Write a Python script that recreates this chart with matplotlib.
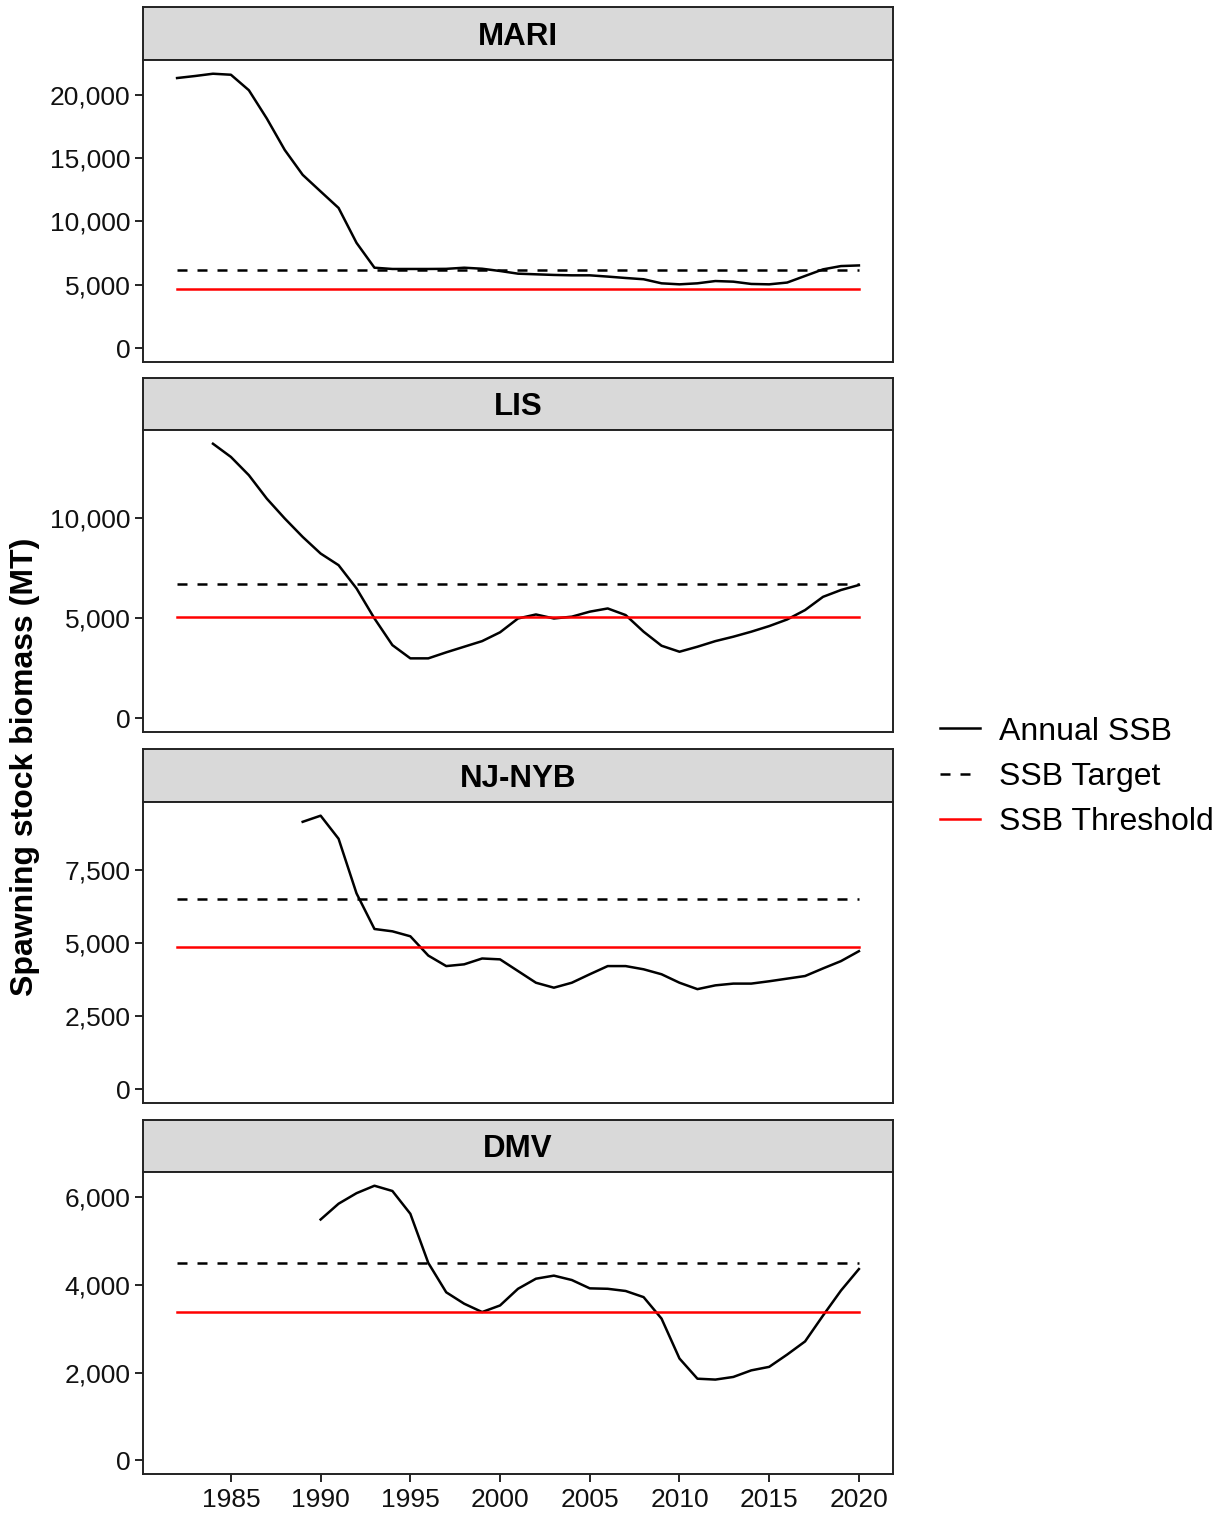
import matplotlib
matplotlib.use("Agg")
import matplotlib.pyplot as plt
from matplotlib.lines import Line2D
from matplotlib.ticker import FuncFormatter

plt.rcParams['font.family'] = ['Liberation Sans', 'DejaVu Sans']

# ---- data ----
regions = ["MARI", "LIS", "NJ-NYB", "DMV"]

mari_years = list(range(1982, 2021))
mari_ssb = [21300, 21460, 21640, 21560, 20340, 18110, 15630, 13670, 12360, 11060,
            8310, 6350, 6250, 6250, 6250, 6260, 6350, 6270, 6090, 5880,
            5830, 5780, 5750, 5750, 5650, 5540, 5440, 5120, 5040, 5120,
            5300, 5250, 5070, 5040, 5180, 5700, 6220, 6480, 6530]

lis_years = list(range(1984, 2021))
lis_ssb = [13700, 13040, 12130, 10960, 9970, 9050, 8220, 7640, 6480, 4980,
           3650, 2990, 2990, 3290, 3570, 3850, 4290, 4980, 5180, 4980,
           5070, 5320, 5480, 5150, 4320, 3620, 3320, 3570, 3850, 4070,
           4320, 4600, 4930, 5400, 6060, 6400, 6650]

njnyb_years = list(range(1989, 2021))
njnyb_ssb = [9160, 9370, 8580, 6710, 5490, 5410, 5240, 4580, 4220, 4280,
             4480, 4450, 4050, 3650, 3480, 3650, 3940, 4220, 4220, 4110,
             3940, 3650, 3430, 3560, 3620, 3620, 3700, 3790, 3880, 4140,
             4390, 4730]

dmv_years = list(range(1990, 2021))
dmv_ssb = [5490, 5850, 6090, 6260, 6140, 5620, 4500, 3830, 3570, 3380,
           3530, 3910, 4140, 4210, 4110, 3920, 3910, 3860, 3720, 3230,
           2320, 1860, 1840, 1900, 2050, 2130, 2410, 2710, 3300, 3870,
           4360]

ssb_target = [6140, 6710, 6530, 4500]
ssb_threshold = [4700, 5030, 4880, 3375]

ref_years = [1982, 2020]

y_ticks = [[0, 5000, 10000, 15000, 20000],
           [0, 5000, 10000],
           [0, 2500, 5000, 7500],
           [0, 2000, 4000, 6000]]
x_ticks = [1985, 1990, 1995, 2000, 2005, 2010, 2015, 2020]

legend_labels = ["Annual SSB", "SSB Target", "SSB Threshold"]
y_label = "Spawning stock biomass (MT)"

series = [(mari_years, mari_ssb), (lis_years, lis_ssb),
          (njnyb_years, njnyb_ssb), (dmv_years, dmv_ssb)]

# ---- layout ----
W, H = 1231, 1515
fig = plt.figure(figsize=(W / 100, H / 100), dpi=100)
fig.patch.set_facecolor("white")


def rect(x0, y0, x1, y1):
    return [x0 / W, 1 - y1 / H, (x1 - x0) / W, (y1 - y0) / H]


strip_px = [(143, 7, 893, 60), (143, 378, 893, 430), (143, 749, 893, 802), (143, 1120, 893, 1172)]
ax_px = [(143, 60, 893, 362), (143, 430, 893, 732), (143, 802, 893, 1103), (143, 1172, 893, 1474)]

LW = 1.8
tick_fs = 19
fmt = FuncFormatter(lambda v, p: f"{int(v):,}")

for i, name in enumerate(regions):
    # strip
    sax = fig.add_axes(rect(*strip_px[i]))
    sax.set_facecolor("#D9D9D9")
    sax.set_xticks([])
    sax.set_yticks([])
    for sp in sax.spines.values():
        sp.set_linewidth(1.4)
        sp.set_color("#222222")
    sax.text(0.5, 0.44, name, ha="center", va="center", fontsize=22.5,
             fontweight="bold", transform=sax.transAxes)

    ax = fig.add_axes(rect(*ax_px[i]))
    yrs, vals = series[i]
    ax.plot(yrs, vals, color="black", lw=LW, solid_joinstyle="round")
    ax.plot(ref_years, [ssb_target[i]] * 2, color="black", lw=LW, dashes=(4, 4))
    ax.plot(ref_years, [ssb_threshold[i]] * 2, color="red", lw=LW)

    x_lo, x_hi = 1982, 2020
    xr = x_hi - x_lo
    ax.set_xlim(x_lo - 0.05 * xr, x_hi + 0.05 * xr)
    ymax = max(max(vals), ssb_target[i])
    ax.set_ylim(-0.05 * ymax, 1.05 * ymax)

    ax.set_yticks(y_ticks[i])
    ax.yaxis.set_major_formatter(fmt)
    ax.tick_params(axis="y", labelsize=tick_fs, length=6, width=1.2, colors="black",
                   labelcolor="#111111", pad=3)
    if i == len(regions) - 1:
        ax.set_xticks(x_ticks)
        ax.tick_params(axis="x", labelsize=tick_fs, length=6, width=1.2, pad=4,
                       labelcolor="#111111")
    else:
        ax.set_xticks(x_ticks)
        ax.tick_params(axis="x", length=0, labelbottom=False)
    for sp in ax.spines.values():
        sp.set_linewidth(1.4)
        sp.set_color("#222222")

fig.text(25 / W, 1 - 767 / H, y_label, rotation=90, ha="center", va="center",
         fontsize=23, fontweight="bold")

handles = [Line2D([], [], color="black", lw=LW),
           Line2D([], [], color="black", lw=LW, dashes=(4, 4)),
           Line2D([], [], color="red", lw=LW)]
fig.legend(handles, legend_labels, loc="center left",
           bbox_to_anchor=(940 / W, 1 - 777 / H), frameon=False, fontsize=23,
           handlelength=1.25, handletextpad=0.6, labelspacing=0.48,
           borderpad=0, borderaxespad=0)

fig.savefig("out.png", dpi=100, facecolor="white")
